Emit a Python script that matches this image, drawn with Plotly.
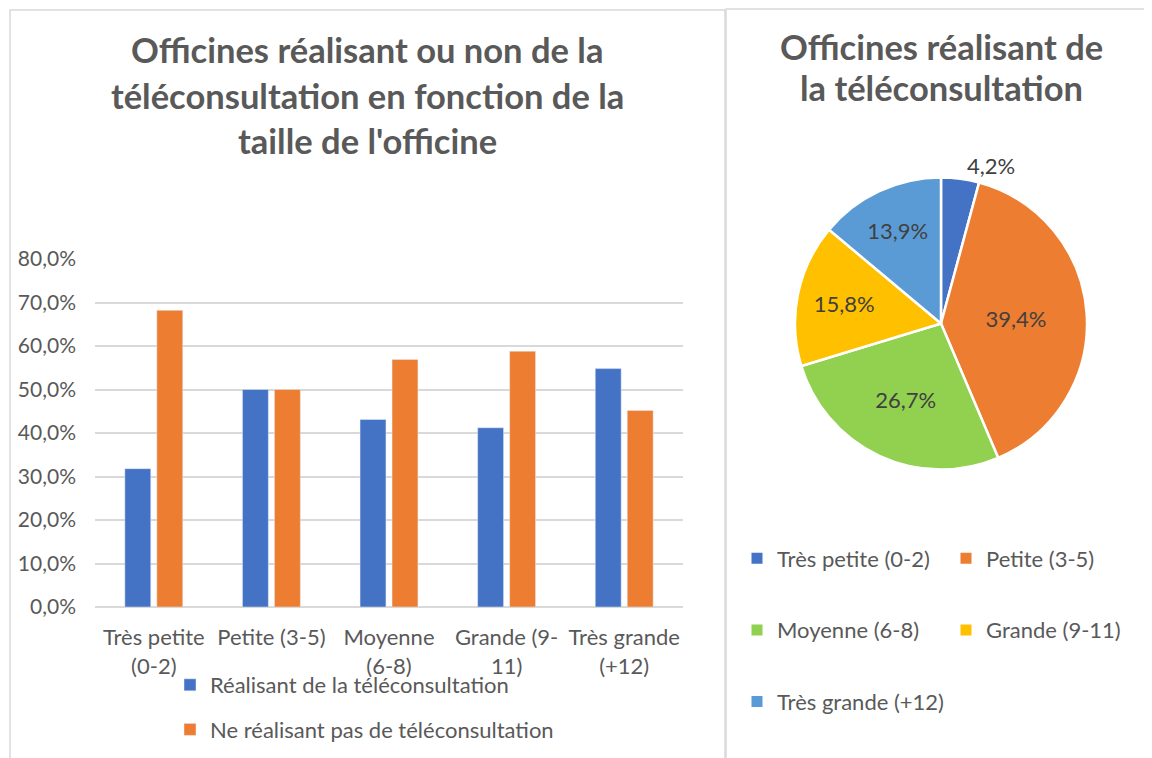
import plotly.graph_objects as go

# ---- data ----
categories = ["Très petite<br>(0-2)", "Petite (3-5)", "Moyenne<br>(6-8)", "Grande (9-<br>11)", "Très grande<br>(+12)"]
realisant = [31.8, 50.0, 43.1, 41.2, 54.8]
non_realisant = [68.2, 50.0, 56.9, 58.8, 45.2]
series_names = ["Réalisant de la téléconsultation", "Ne réalisant pas de téléconsultation"]

pie_labels = ["Très petite (0-2)", "Petite (3-5)", "Moyenne (6-8)", "Grande (9-11)", "Très grande (+12)"]
pie_values = [4.2, 39.4, 26.7, 15.8, 13.9]

title_left = ["Officines réalisant ou non de la", "téléconsultation en fonction de la", "taille de l'officine"]
title_right = ["Officines réalisant de", "la téléconsultation"]

# ---- styles ----
# The figure is a bit taller than the 758px window so that the legends near the
# bottom never trigger plotly's auto-margins; the extra strip is off-screen.
W, H = 1152, 790
OFF = 8  # page body margin: the figure is drawn 8px right/down of the window origin
BLUE, ORANGE = "#4472C4", "#ED7D31"
pie_colors = ["#4472C4", "#ED7D31", "#92D050", "#FFC000", "#5B9BD5"]
GREY = "#595959"
FONT = "Lato"
FS = 22


def px(x):
    return (x - OFF) / W


def py(y):
    return 1 - (y - OFF) / H


fig = go.Figure()
fig.add_trace(go.Bar(x=categories, y=realisant, name=series_names[0], marker_color=BLUE,
                     legendgroup="a", legend="legend", hoverinfo="skip"))
fig.add_trace(go.Bar(x=categories, y=non_realisant, name=series_names[1], marker_color=ORANGE,
                     legendgroup="b", legend="legend", hoverinfo="skip"))

fig.add_trace(go.Pie(
    labels=pie_labels, values=pie_values, sort=False,
    direction="clockwise", rotation=0,
    marker=dict(colors=pie_colors, line=dict(color="white", width=2.5)),
    texttemplate="%{percent:.1%}",
    textposition=["outside", "inside", "inside", "inside", "inside"],
    insidetextorientation="horizontal",
    textfont=dict(family=FONT, size=FS, color="#404040"),
    domain=dict(x=[px(795), px(1087)], y=[py(470), py(177)]),
    showlegend=False, hoverinfo="skip",
))

# legend entries for the pie (two columns, Excel-like layout)
for i, (lab, col) in enumerate(zip(pie_labels, pie_colors)):
    fig.add_trace(go.Scatter(
        x=[None], y=[None], mode="markers", name=lab,
        marker=dict(symbol="square", size=11, color=col, line=dict(width=0)),
        legend="legend2" if i % 2 == 0 else "legend3", legendgroup="p%d" % i,
        hoverinfo="skip",
    ))

legend_common = dict(xanchor="left", yanchor="top", orientation="v", bgcolor="rgba(0,0,0,0)",
                     itemwidth=30, font=dict(size=FS, color=GREY, family=FONT))

fig.update_layout(
    width=W, height=H, autosize=False,
    margin=dict(l=0, r=0, t=0, b=0),
    paper_bgcolor="white", plot_bgcolor="white",
    separators=", ",
    font=dict(family=FONT, color=GREY, size=FS),
    barmode="group", bargap=0.456, bargroupgap=0.19,
    xaxis=dict(domain=[px(95), px(683)], showgrid=False, showline=False, ticks="",
               tickfont=dict(size=FS, color=GREY), tickangle=0, fixedrange=True,
               ticklabelstandoff=15, automargin=False),
    yaxis=dict(domain=[py(607), py(259)], range=[0, 80], dtick=10, tickformat=".1f",
               ticksuffix="%", showgrid=True, gridcolor="#D9D9D9", gridwidth=1.5,
               zeroline=True, zerolinecolor="#D9D9D9", zerolinewidth=1.5,
               tickfont=dict(size=21, color=GREY), ticks="", ticklabelstandoff=18,
               automargin=False),
    legend=dict(x=px(170), y=py(664), tracegroupgap=13, **legend_common),
    legend2=dict(x=px(737), y=py(537.5), tracegroupgap=40, **legend_common),
    legend3=dict(x=px(946), y=py(537.5), tracegroupgap=40, **legend_common),
    showlegend=True,
)

# chart frames
fig.add_shape(type="rect", xref="paper", yref="paper", x0=px(10), x1=px(725), y0=-0.2, y1=py(10),
              line=dict(color="#D9D9D9", width=1.5), layer="below")
fig.add_shape(type="rect", xref="paper", yref="paper", x0=px(726), x1=1.2, y0=-0.2, y1=py(9),
              line=dict(color="#D9D9D9", width=1.5), layer="below")

# titles
for i, t in enumerate(title_left):
    fig.add_annotation(text=t, x=px(367), y=py(50 + 45 * i), xref="paper", yref="paper",
                       showarrow=False, xanchor="center", yanchor="middle",
                       font=dict(family=FONT, size=34.5, color=GREY, weight="bold"))
for i, t in enumerate(title_right):
    fig.add_annotation(text=t, x=px(941), y=py(46 + 42 * i), xref="paper", yref="paper",
                       showarrow=False, xanchor="center", yanchor="middle",
                       font=dict(family=FONT, size=34.5, color=GREY, weight="bold"))

fig.write_html("out.html")
